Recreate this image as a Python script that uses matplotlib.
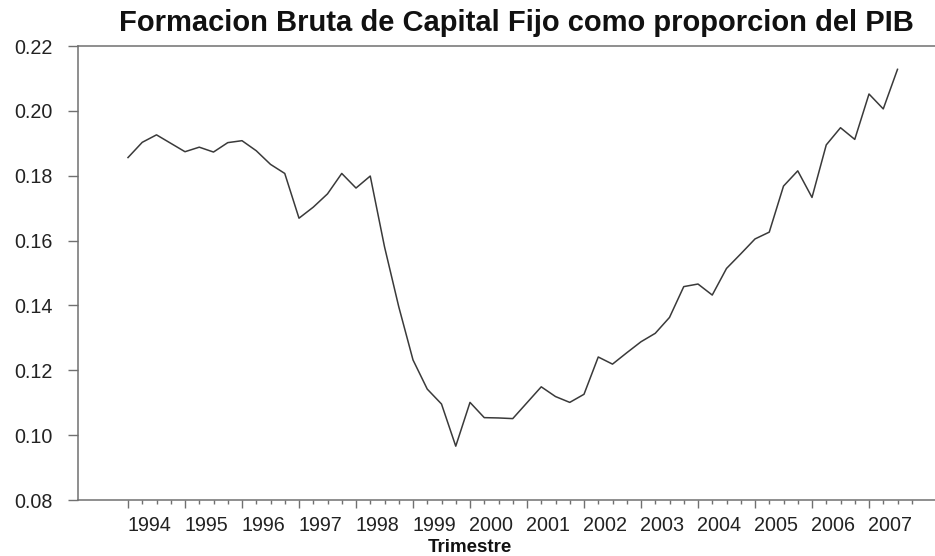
import numpy as np
import matplotlib.pyplot as plt
from matplotlib.transforms import ScaledTranslation

plt.rcParams['font.family'] = ['Liberation Sans', 'DejaVu Sans']

# quarterly data, 1994Q1 .. 2007Q3
years = np.arange(1994, 2008)
fbkf = [0.1856, 0.1903, 0.1926, 0.1900,
        0.1874, 0.1888, 0.1873, 0.1902,
        0.1908, 0.1877, 0.1835, 0.1807,
        0.1669, 0.1703, 0.1744, 0.1807,
        0.1762, 0.1799, 0.1581, 0.1396,
        0.1232, 0.1142, 0.1096, 0.0966,
        0.1101, 0.1054, 0.1053, 0.1051,
        0.1100, 0.1149, 0.1119, 0.1101,
        0.1126, 0.1241, 0.1219, 0.1254,
        0.1288, 0.1314, 0.1363, 0.1458,
        0.1466, 0.1432, 0.1514, 0.1559,
        0.1605, 0.1626, 0.1768, 0.1815,
        0.1733, 0.1895, 0.1948, 0.1912,
        0.2052, 0.2006, 0.2128]
t = 1994 + np.arange(len(fbkf)) / 4.0
yticks = [0.08, 0.10, 0.12, 0.14, 0.16, 0.18, 0.20, 0.22]

fig = plt.figure(figsize=(9.35, 5.56), dpi=100)
ax = fig.add_axes([78/935, 1 - 500/556, 1 - 78/935, (500 - 46)/556])

ax.plot(t, fbkf, color='#3a3a3a', lw=1.1)

ax.set_xlim(1994 - 50/57, 1994 + (935 - 128)/57)
ax.set_ylim(0.08, 0.22)

gray = '#707070'
for s in ['left', 'top', 'bottom']:
    ax.spines[s].set_color(gray)
    ax.spines[s].set_linewidth(1.1)
ax.spines['right'].set_visible(False)

ax.set_yticks(yticks, ['%.2f' % v for v in yticks])
ax.set_xticks(years, [str(y) for y in years])
ax.set_xticks(np.arange(1994, 2008, 0.25), minor=True)

ax.tick_params(axis='y', direction='out', length=7.2, width=1.0, color=gray,
               pad=11, labelsize=14.2, labelcolor='#222222')
ax.tick_params(axis='x', which='major', direction='out', length=5.8, width=1.0,
               color=gray, pad=6, labelsize=14.2, labelcolor='#222222')
ax.tick_params(axis='x', which='minor', direction='out', length=2.9, width=1.0,
               color=gray)

# year labels sit a bit right of their tick
offset = ScaledTranslation(0.21, 0, fig.dpi_scale_trans)
for lab in ax.get_xticklabels():
    lab.set_transform(lab.get_transform() + offset)

fig.text(516/935, 1 - 23/556, 'Formacion Bruta de Capital Fijo como proporcion del PIB',
         ha='center', va='center', fontsize=21, fontweight='bold', color='#111111')
fig.text(470/935, 1 - 547/556, 'Trimestre', ha='center', va='center',
         fontsize=13.5, fontweight='bold', color='#111111')

fig.savefig('out.png', dpi=100)
